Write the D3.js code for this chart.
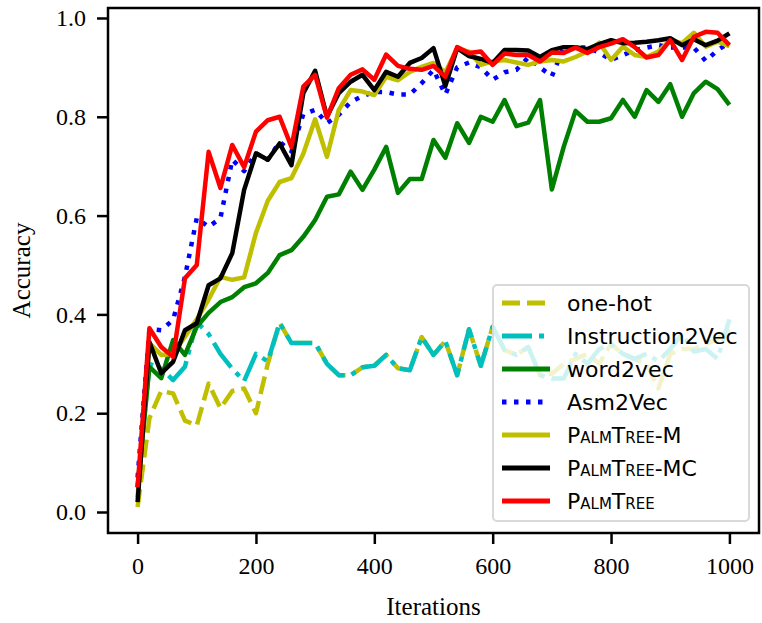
<!DOCTYPE html>
<html>
<head>
<meta charset="UTF-8">
<title>Accuracy vs iterations</title>
<script src="https://d3js.org/d3.v7.min.js"></script>
<style>
  body { margin: 0; background: #fff; }
  svg { display: block; }
  .lab { font-family: "Liberation Serif", "Times New Roman", serif; font-size: 25px; }
  .leg text { font-family: "DejaVu Sans", sans-serif; font-size: 22px; }
</style>
</head>
<body>
<svg id="chart" width="762" height="623"></svg>
<script>
// iterations (x)
let iterations = [0, 20, 40, 60, 80, 100, 120, 140, 160, 180, 200, 220, 240, 260, 280, 300, 320, 340, 360, 380,
  400, 420, 440, 460, 480, 500, 520, 540, 560, 580, 600, 620, 640, 660, 680, 700, 720, 740, 760, 780,
  800, 820, 840, 860, 880, 900, 920, 940, 960, 980, 1000];

let oneHot = [0.01, 0.19, 0.245, 0.24, 0.185, 0.175, 0.26, 0.21, 0.245, 0.25,
  0.20, 0.30, 0.383, 0.342, 0.342, 0.342, 0.30, 0.277, 0.277, 0.293,
  0.296, 0.318, 0.291, 0.287, 0.354, 0.318, 0.346, 0.277, 0.37, 0.296,
  0.375, 0.328, 0.318, 0.334, 0.277, 0.28, 0.30, 0.31, 0.32, 0.30,
  0.34, 0.32, 0.31, 0.30, 0.25, 0.32, 0.33, 0.33, 0.34, 0.35, 0.37];

let instr2vec = [0.05, 0.30, 0.29, 0.267, 0.294, 0.385, 0.36, 0.32, 0.29, 0.265,
  0.32, 0.305, 0.383, 0.342, 0.342, 0.342, 0.30, 0.277, 0.277, 0.293,
  0.296, 0.318, 0.291, 0.287, 0.354, 0.318, 0.346, 0.277, 0.37, 0.296,
  0.375, 0.328, 0.318, 0.334, 0.277, 0.27, 0.27, 0.32, 0.30, 0.33,
  0.34, 0.32, 0.31, 0.32, 0.305, 0.33, 0.36, 0.325, 0.33, 0.31, 0.39];

let word2vec = [0.05, 0.294, 0.271, 0.348, 0.318, 0.375, 0.403, 0.425, 0.435, 0.455,
  0.463, 0.484, 0.52, 0.53, 0.557, 0.591, 0.638, 0.643, 0.689, 0.652,
  0.693, 0.739, 0.646, 0.674, 0.674, 0.753, 0.717, 0.787, 0.747, 0.80,
  0.79, 0.834, 0.781, 0.788, 0.834, 0.653, 0.739, 0.812, 0.79, 0.79,
  0.797, 0.834, 0.80, 0.854, 0.83, 0.866, 0.80, 0.848, 0.871, 0.856, 0.824];

let asm2vec = [0.07, 0.37, 0.368, 0.389, 0.476, 0.595, 0.577, 0.595, 0.713, 0.69,
  0.726, 0.713, 0.749, 0.73, 0.805, 0.814, 0.787, 0.804, 0.83, 0.842,
  0.85, 0.85, 0.845, 0.845, 0.868, 0.895, 0.845, 0.90, 0.91, 0.90,
  0.875, 0.89, 0.895, 0.92, 0.90, 0.882, 0.94, 0.94, 0.94, 0.93,
  0.915, 0.925, 0.935, 0.94, 0.945, 0.94, 0.94, 0.94, 0.913, 0.935, 0.95];

let palmTreeM = [0.03, 0.342, 0.318, 0.32, 0.355, 0.39, 0.43, 0.476, 0.47, 0.475,
  0.565, 0.63, 0.668, 0.676, 0.725, 0.795, 0.719, 0.814, 0.854, 0.851,
  0.844, 0.881, 0.874, 0.891, 0.901, 0.909, 0.89, 0.938, 0.932, 0.905,
  0.912, 0.915, 0.91, 0.905, 0.912, 0.915, 0.912, 0.921, 0.932, 0.95,
  0.915, 0.942, 0.925, 0.921, 0.932, 0.955, 0.949, 0.97, 0.942, 0.952, 0.943];

let palmTreeMC = [0.02, 0.344, 0.281, 0.304, 0.368, 0.382, 0.459, 0.473, 0.524, 0.652,
  0.726, 0.713, 0.746, 0.702, 0.848, 0.893, 0.80, 0.848, 0.871, 0.885,
  0.854, 0.891, 0.881, 0.909, 0.919, 0.939, 0.862, 0.939, 0.923, 0.917,
  0.909, 0.935, 0.935, 0.934, 0.921, 0.935, 0.941, 0.941, 0.937, 0.947,
  0.955, 0.949, 0.95, 0.952, 0.955, 0.959, 0.945, 0.957, 0.945, 0.954, 0.969];

let palmTree = [0.05, 0.372, 0.334, 0.314, 0.473, 0.50, 0.729, 0.656, 0.743, 0.698,
  0.77, 0.793, 0.80, 0.739, 0.861, 0.885, 0.798, 0.858, 0.885, 0.896,
  0.875, 0.926, 0.903, 0.897, 0.895, 0.903, 0.881, 0.941, 0.929, 0.932,
  0.905, 0.928, 0.925, 0.925, 0.912, 0.930, 0.929, 0.94, 0.929, 0.941,
  0.948, 0.957, 0.941, 0.92, 0.925, 0.955, 0.915, 0.962, 0.972, 0.970, 0.945];

let xTicks = [0, 200, 400, 600, 800, 1000];
let yTicks = [0.0, 0.2, 0.4, 0.6, 0.8, 1.0];

let series = [
  { name: "one-hot", values: oneHot, color: "#bfbf00", dash: "18,7" },
  { name: "Instruction2Vec", values: instr2vec, color: "#00bfbf", dash: "30,7,5,7" },
  { name: "word2vec", values: word2vec, color: "#008000", dash: null },
  { name: "Asm2Vec", values: asm2vec, color: "#0000ff", dash: "4.5,7.5" },
  { name: "PalmTree-M", values: palmTreeM, color: "#bfbf00", dash: null, sc: true },
  { name: "PalmTree-MC", values: palmTreeMC, color: "#000000", dash: null, sc: true },
  { name: "PalmTree", values: palmTree, color: "#ff0000", dash: null, sc: true }
];

let margin = { left: 108, right: 3, top: 8, bottom: 90 };
let width = 762, height = 623;

let svg = d3.select("#chart");

let x = d3.scaleLinear().domain([-50, 1050]).range([margin.left, width - margin.right]);
let y = d3.scaleLinear().domain([-0.0425, 1.0202]).range([height - margin.bottom, margin.top]);

let line = d3.line()
  .x((d, i) => x(iterations[i]))
  .y(d => y(d));

// lines
series.forEach(s => {
  svg.append("path")
    .datum(s.values)
    .attr("fill", "none")
    .attr("stroke", s.color)
    .attr("stroke-width", 4.5)
    .attr("stroke-linejoin", "round")
    .attr("stroke-dasharray", s.dash)
    .attr("d", line);
});

// axes
let xAxis = svg.append("g")
  .attr("transform", `translate(0,${height - margin.bottom})`)
  .call(d3.axisBottom(x).tickValues(xTicks).tickFormat(d3.format("d")).tickSize(11).tickPadding(10));
let yAxis = svg.append("g")
  .attr("transform", `translate(${margin.left},0)`)
  .call(d3.axisLeft(y).tickValues(yTicks).tickFormat(d3.format(".1f")).tickSize(11).tickPadding(11));

[xAxis, yAxis].forEach(g => {
  g.attr("font-family", null).attr("font-size", null);
  g.select(".domain").remove();
  g.selectAll(".tick line").attr("stroke", "#000").attr("stroke-width", 2.5);
  g.selectAll(".tick text")
    .attr("fill", "#000")
    .style("font-family", "'Liberation Serif', 'Times New Roman', serif")
    .style("font-size", "24px");
});
xAxis.selectAll(".tick text").attr("dy", "0.85em");

// frame
svg.append("rect")
  .attr("x", margin.left).attr("y", margin.top)
  .attr("width", width - margin.right - margin.left)
  .attr("height", height - margin.bottom - margin.top)
  .attr("fill", "none").attr("stroke", "#000").attr("stroke-width", 2.5);

// axis titles
svg.append("text").attr("class", "lab")
  .attr("x", (margin.left + width - margin.right) / 2).attr("y", 615)
  .attr("text-anchor", "middle").text("Iterations");
svg.append("text").attr("class", "lab")
  .attr("transform", `translate(30,${(margin.top + height - margin.bottom) / 2}) rotate(-90)`)
  .attr("text-anchor", "middle").text("Accuracy");

// legend
let leg = svg.append("g").attr("class", "leg");
leg.append("rect")
  .attr("x", 493).attr("y", 285).attr("width", 256).attr("height", 236)
  .attr("rx", 4)
  .attr("fill", "#fff").attr("fill-opacity", 0.8)
  .attr("stroke", "#d9d9d9").attr("stroke-width", 2);

series.forEach((s, i) => {
  let ry = 303 + i * 33;
  leg.append("line")
    .attr("x1", 502).attr("x2", 550).attr("y1", ry).attr("y2", ry)
    .attr("stroke", s.color).attr("stroke-width", 5)
    .attr("stroke-dasharray", s.dash);
  leg.append("text")
    .attr("x", 567).attr("y", ry).attr("dy", "0.36em")
    .style("font-variant", s.sc ? "small-caps" : "normal")
    .text(s.name);
});
</script>
</body>
</html>
